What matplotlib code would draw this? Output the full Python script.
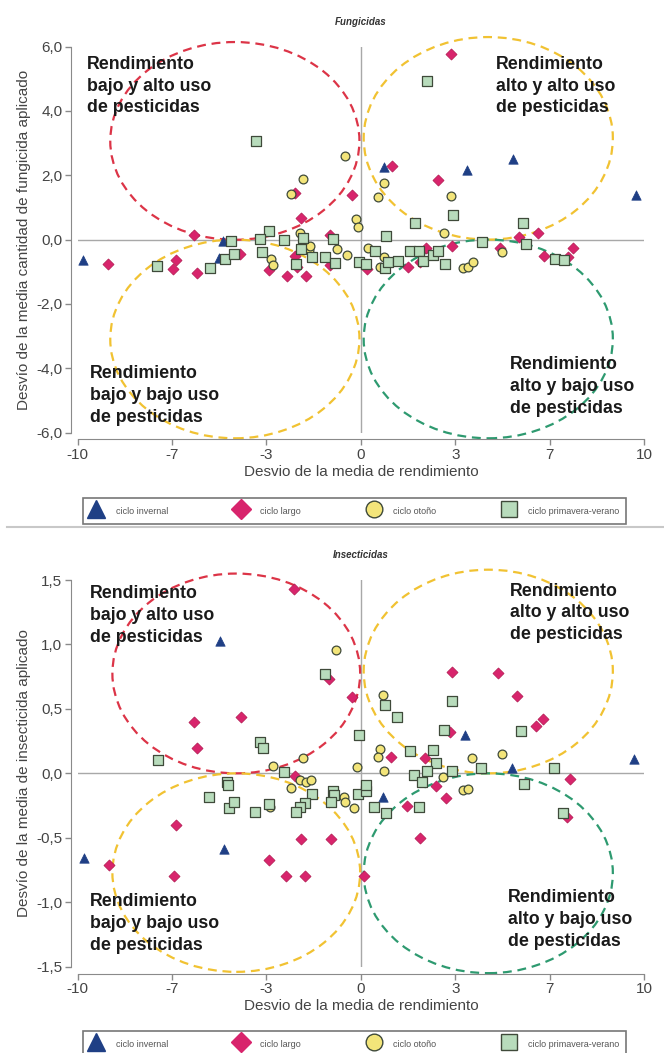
import matplotlib
matplotlib.use('Agg')
import matplotlib.pyplot as plt
from matplotlib.patches import Ellipse
from matplotlib.lines import Line2D

plt.rcParams['font.family'] = ['Liberation Sans', 'DejaVu Sans']

# ---- Fungicidas ----
fun_inv_x = [-9.8, -5.0, -4.88, 0.8, 3.75, 5.39, 9.73]
fun_inv_y = [-0.63, -0.58, -0.04, 2.27, 2.16, 2.5, 1.39]

fun_lar_x = [3.2, -2.34, -0.3, -2.12, 1.1, 2.72, 5.57, 6.25, -5.91, -1.1, -8.92, -6.52, -6.64, -5.78, -4.27,
             -3.23, -2.61, -2.31, -2.26, -1.95, -1.08, 0.2, 1.67, 2.3, 2.1, 3.23, 4.9, 6.47, 7.3, 7.48]
fun_lar_y = [5.78, 1.46, 1.4, 0.66, 2.29, 1.86, 0.07, 0.22, 0.13, 0.14, -0.75, -0.65, -0.92, -1.03, -0.46,
             -0.94, -1.13, -0.5, -0.85, -1.14, -0.78, -0.9, -0.85, -0.25, -0.7, -0.19, -0.27, -0.51, -0.55, -0.25]

fun_oto_x = [-0.55, -2.06, -2.46, -0.18, -0.1, 0.82, 0.62, 3.17, 2.94, -2.15, -3.18, -3.11, -1.83, -1.8,
             -0.83, -0.48, 0.27, 0.8, 0.68, 3.6, 3.77, 3.95, 5.0]
fun_oto_y = [2.6, 1.87, 1.41, 0.65, 0.39, 1.77, 1.33, 1.35, 0.22, 0.22, -0.6, -0.78, -0.32, -0.2,
             -0.29, -0.48, -0.27, -0.55, -0.84, -0.89, -0.84, -0.71, -0.4]

fun_pri_x = [-3.7, 2.35, 3.27, 1.92, 5.72, 0.89, -3.26, -3.57, -2.72, -2.03, -1.0, -4.6, -7.19, -5.33,
             -4.79, -4.49, -3.48, -2.28, -2.12, -1.73, -1.26, -0.92, -0.05, 0.18, 0.5, 0.87, 0.95, 1.32,
             1.73, 2.07, 2.19, 2.55, 2.72, 2.97, 4.29, 5.83, 6.85, 7.18]
fun_pri_y = [3.08, 4.93, 0.75, 0.52, 0.53, 0.11, 0.27, 0.02, 0.0, 0.04, 0.03, -0.04, -0.81, -0.89,
             -0.6, -0.46, -0.4, -0.75, -0.3, -0.55, -0.53, -0.73, -0.71, -0.75, -0.35, -0.89, -0.7, -0.66,
             -0.35, -0.35, -0.68, -0.48, -0.35, -0.76, -0.09, -0.14, -0.6, -0.65]

# ---- Insecticidas ----
ins_inv_x = [-4.97, 3.69, 9.65, 5.35, 0.77, -4.85, -9.77]
ins_inv_y = [1.03, 0.3, 0.11, 0.04, -0.18, -0.59, -0.66]

ins_lar_x = [-2.36, -1.11, -0.32, -5.9, -4.25, -5.8, 3.21, 4.85, 5.53, 6.2, 6.43, 3.16, 1.07, 2.27, 7.4,
             -2.31, 0.12, 1.64, 2.09, 2.67, 2.99, 7.27, -6.53, -8.89, -6.59, -3.24, -2.63, -1.97, -2.13, -1.04]
ins_lar_y = [1.43, 0.73, 0.59, 0.4, 0.44, 0.2, 0.79, 0.78, 0.6, 0.37, 0.42, 0.32, 0.13, 0.12, -0.04,
             -0.02, -0.8, -0.25, -0.5, -0.1, -0.19, -0.34, -0.4, -0.71, -0.8, -0.67, -0.8, -0.8, -0.51, -0.51]

ins_oto_x = [-0.87, -3.1, -2.06, -0.14, 0.77, 0.69, 0.59, 0.8, 2.91, 3.92, 4.97, -4.74, -2.48, -2.16,
             -1.94, -1.76, -0.59, -0.55, -0.24, 3.62, 3.8, -3.2]
ins_oto_y = [0.96, 0.06, 0.12, 0.05, 0.61, 0.19, 0.13, 0.02, -0.03, 0.12, 0.15, -0.08, -0.11, -0.05,
             -0.07, -0.05, -0.18, -0.22, -0.27, -0.13, -0.12, -0.26]

ins_pri_x = [-1.26, -7.16, -3.56, -3.44, -2.7, -0.06, 0.87, 1.29, 3.21, 5.65, 2.94, 1.74, 2.54, 2.64,
             2.34, 1.89, 4.26, 6.82, 3.21, -4.72, -4.7, -5.35, -4.64, -4.49, -3.74, -3.26, -1.71, -1.98,
             -2.15, -2.28, -0.99, -0.95, -1.07, -0.09, 0.17, 0.17, 0.47, 0.89, 2.04, 2.16, 5.77, 7.15]
ins_pri_y = [0.77, 0.1, 0.24, 0.2, 0.01, 0.3, 0.53, 0.44, 0.56, 0.33, 0.34, 0.17, 0.18, 0.08,
             0.02, -0.01, 0.04, 0.04, 0.02, -0.07, -0.09, -0.18, -0.27, -0.22, -0.3, -0.24, -0.16, -0.23,
             -0.26, -0.3, -0.14, -0.17, -0.22, -0.16, -0.14, -0.09, -0.26, -0.31, -0.26, -0.07, -0.08, -0.31]

xticks_lab = ['-10', '-7', '-3', '0', '3', '7', '10']
fun_yticks = [-6, -4, -2, 0, 2, 4, 6]
ins_yticks = [-1.5, -1.0, -0.5, 0, 0.5, 1.0, 1.5]
series_labels = ['ciclo invernal', 'ciclo largo', 'ciclo otoño', 'ciclo primavera-verano']
quad_labels = ['Rendimiento\nbajo y alto uso\nde pesticidas', 'Rendimiento\nalto y alto uso\nde pesticidas',
               'Rendimiento\nbajo y bajo uso\nde pesticidas', 'Rendimiento\nalto y bajo uso\nde pesticidas']

C_TRI = '#1f3f85'
C_DIA = '#d8246c'
C_CIR = '#f3e57a'
C_SQU = '#b8dcbc'
C_EDGE = '#3f4a3a'
C_RED = '#dc3447'
C_YEL = '#f1c232'
C_GRN = '#2e9a70'

W, H = 664, 1053
fig = plt.figure(figsize=(W / 100, H / 100), dpi=100)


def px_axes(left, right, top, bottom):
    return [left / W, 1 - bottom / H, (right - left) / W, (bottom - top) / H]


def draw(ax, series, ymax, yticks, ylabel, title, ell, txt):
    (ix, iy), (lx, ly), (ox, oy), (px_, py_) = series
    ax.set_xlim(-10, 10)
    ax.set_ylim(-ymax, ymax)
    ax.axhline(0, color='#a8a8a8', lw=1, zorder=1)
    ax.axvline(0, color='#a8a8a8', lw=1, zorder=1)
    for (cx, cy, w, h, c) in ell:
        ax.add_patch(Ellipse((cx, cy), w, h, fill=False, ec=c, lw=1.6, ls=(0, (4, 2.6)),
                             clip_on=False, zorder=2))
    ax.scatter(ix, iy, marker='^', s=46, c=C_TRI, edgecolors=C_TRI, lw=0.5, zorder=3)
    ax.scatter(lx, ly, marker='D', s=32, c=C_DIA, edgecolors='#b0184f', lw=0.5, zorder=3)
    ax.scatter(ox, oy, marker='o', s=40, c=C_CIR, edgecolors=C_EDGE, lw=0.9, zorder=3)
    ax.scatter(px_, py_, marker='s', s=46, c=C_SQU, edgecolors=C_EDGE, lw=0.9, zorder=3)
    for (tx, ty, s) in txt:
        ax.text(tx, ty, s, fontsize=12.8, fontweight='bold', color='#1a1a1a', va='top', ha='left',
                linespacing=1.37, zorder=4)
    for side in ['top', 'right']:
        ax.spines[side].set_visible(False)
    for side in ['left', 'bottom']:
        ax.spines[side].set_position(('outward', 5))
        ax.spines[side].set_color('#8a8a8a')
    ax.set_xticks([-10 + i * 20 / 6 for i in range(7)])
    ax.set_xticklabels(xticks_lab)
    ax.set_yticks(yticks)
    ax.set_yticklabels([('%.1f' % v).replace('.', ',') for v in yticks])
    ax.tick_params(length=4, width=1, color='#8a8a8a', labelsize=11, labelcolor='#444444', pad=2)
    ax.set_xlabel('Desvio de la media de rendimiento', fontsize=11, color='#444444', labelpad=2)
    ax.set_ylabel(ylabel, fontsize=11, color='#444444', labelpad=4)
    ax.text(0.5, 1.065, title, transform=ax.transAxes, ha='center', va='center', fontsize=7,
            style='italic', fontweight='bold', color='#333333')


def legend(top):
    handles = [
        Line2D([], [], ls='none', marker='^', ms=13, mfc=C_TRI, mec=C_TRI),
        Line2D([], [], ls='none', marker='D', ms=10, mfc=C_DIA, mec=C_DIA),
        Line2D([], [], ls='none', marker='o', ms=12, mfc=C_CIR, mec=C_EDGE, mew=1),
        Line2D([], [], ls='none', marker='s', ms=12, mfc=C_SQU, mec=C_EDGE, mew=1),
    ]
    lg = fig.legend(handles, series_labels, loc='upper left',
                    bbox_to_anchor=(83 / W, 1 - top / H, (626 - 83) / W, 0.0), mode='expand', ncol=4,
                    fontsize=6.5, frameon=True, fancybox=False, edgecolor='#555555', borderpad=0.7,
                    handlelength=1.5, handleheight=1.9, handletextpad=1.4, borderaxespad=0,
                    labelcolor='#555555')
    lg.get_frame().set_linewidth(1.2)


ax1 = fig.add_axes(px_axes(77.7, 644, 46.7, 432.5))
draw(ax1, [(fun_inv_x, fun_inv_y), (fun_lar_x, fun_lar_y), (fun_oto_x, fun_oto_y), (fun_pri_x, fun_pri_y)],
     6, fun_yticks, 'Desvío de la media cantidad de fungicida aplicado', 'Fungicidas',
     [(-4.45, 3.07, 8.8, 6.15, C_RED), (4.5, 3.15, 8.8, 6.3, C_YEL),
      (-4.45, -3.09, 8.8, 6.18, C_YEL), (4.5, -3.09, 8.8, 6.18, C_GRN)],
     [(-9.68, 5.72, quad_labels[0]), (4.77, 5.72, quad_labels[1]),
      (-9.56, -3.9, quad_labels[2]), (5.26, -3.63, quad_labels[3])])
legend(497.7)
fig.add_artist(Line2D([0.01, 1], [1 - 527 / H] * 2, color='#c8c8c8', lw=1.5))

ax2 = fig.add_axes(px_axes(77.7, 644, 580, 966.7))
draw(ax2, [(ins_inv_x, ins_inv_y), (ins_lar_x, ins_lar_y), (ins_oto_x, ins_oto_y), (ins_pri_x, ins_pri_y)],
     1.5, ins_yticks, 'Desvío de la media de insecticida aplicado', 'Insecticidas',
     [(-4.4, 0.775, 8.75, 1.55, C_RED), (4.5, 0.79, 8.8, 1.58, C_YEL),
      (-4.4, -0.77, 8.75, 1.54, C_YEL), (4.5, -0.775, 8.8, 1.55, C_GRN)],
     [(-9.56, 1.46, quad_labels[0]), (5.26, 1.48, quad_labels[1]),
      (-9.56, -0.93, quad_labels[2]), (5.18, -0.9, quad_labels[3])])
legend(1031)

fig.savefig('out.png', dpi=100)
